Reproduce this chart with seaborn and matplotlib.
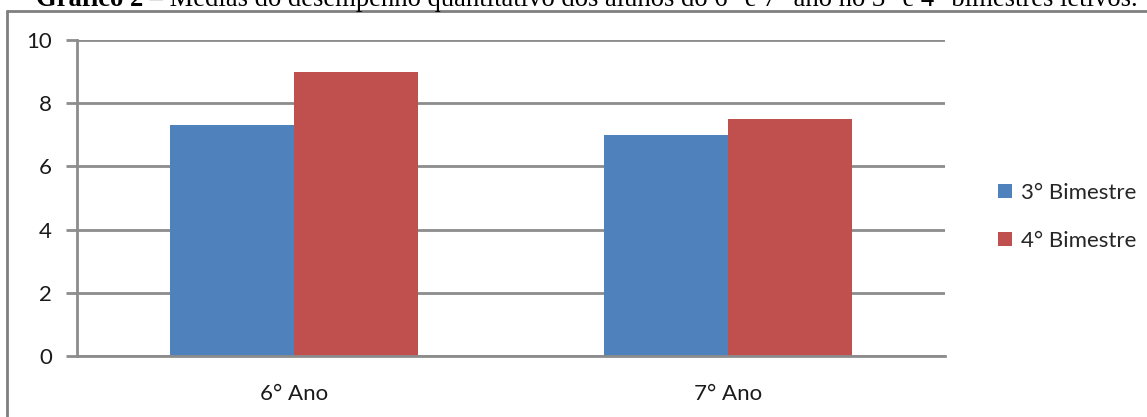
import matplotlib
matplotlib.use("Agg")
import matplotlib.pyplot as plt
from matplotlib.lines import Line2D
from matplotlib.patches import Patch
import seaborn as sns
import pandas as pd

# Data
anos = ["6° Ano", "7° Ano"]
bimestres = ["3° Bimestre", "4° Bimestre"]
bim3 = [7.3, 7.0]
bim4 = [9.0, 7.5]
cores = ["#4F81BD", "#C0504D"]
yticks = [0, 2, 4, 6, 8, 10]
titulo_negrito = "Gráfico 2"
titulo_resto = " – Médias do desempenho quantitativo dos alunos do 6° e 7° ano no 3° e 4° bimestres letivos."

df = pd.DataFrame({
    "Ano": anos * 2,
    "Bimestre": [bimestres[0]] * len(anos) + [bimestres[1]] * len(anos),
    "Media": bim3 + bim4,
})

sns.set_theme(style="white")
plt.rcParams["font.family"] = ["Lato", "DejaVu Sans"]

W, H = 1147, 417
fig = plt.figure(figsize=(W / 100, H / 100), dpi=100)
ax = fig.add_axes([77 / W, 1 - 356 / H, (945 - 77) / W, (356 - 40) / H])

grid_c = "#8C8C8C"
text_c = "#1a1a1a"
ax.set_axisbelow(True)
for v in yticks:
    ax.axhline(v, color=grid_c, lw=2, zorder=0)

sns.barplot(data=df, x="Ano", y="Media", hue="Bimestre", hue_order=bimestres,
            palette=cores, width=0.57, dodge=True, saturation=1, ax=ax,
            legend=False, zorder=2)
for p in ax.patches:
    p.set_edgecolor("none")

ax.set_xlim(-0.5, 1.5)
ax.set_ylim(0, 10)
ax.set_yticks(yticks)
ax.set_yticklabels([str(v) for v in yticks], fontsize=16, color=text_c)
ax.set_xticks([0, 1])
ax.set_xticklabels(anos, fontsize=16, color=text_c)
ax.set_xticks([-0.5, 0.5, 1.5], minor=True)
ax.tick_params(axis="x", which="major", length=0, pad=20)
ax.tick_params(axis="x", which="minor", length=7, width=2, color=grid_c, direction="out")
ax.tick_params(axis="y", which="major", length=8, width=2, color=grid_c, pad=10, left=True)
ax.set_xlabel("")
ax.set_ylabel("")

for s in ["top", "right"]:
    ax.spines[s].set_visible(False)
ax.spines["left"].set_color(grid_c)
ax.spines["left"].set_linewidth(2)
ax.spines["bottom"].set_color(grid_c)
ax.spines["bottom"].set_linewidth(2)

handles = [Patch(facecolor=c, edgecolor="none") for c in cores]
fig.legend(handles, bimestres, loc="center left",
           bbox_to_anchor=(987 / W, 1 - 217 / H), frameon=False,
           fontsize=16, handlelength=0.62, handleheight=0.62,
           handletextpad=0.4, labelspacing=1.25, borderpad=0)

# Outer frame (left and top edges)
frame_c = "#7F7F7F"
fig.add_artist(Line2D([7.5 / W, 7.5 / W], [0, 1 - 11 / H],
                      transform=fig.transFigure, color=frame_c, lw=2))
fig.add_artist(Line2D([7.5 / W, 1], [1 - 11 / H, 1 - 11 / H],
                      transform=fig.transFigure, color=frame_c, lw=2))

# Caption above the frame
fig.canvas.draw()
r = fig.canvas.get_renderer()
t1 = fig.text(36 / W, 1 - 6 / H, titulo_negrito, fontsize=19.2, fontweight="bold",
              family="Liberation Serif", va="baseline", ha="left", color="black")
bb = t1.get_window_extent(renderer=r)
fig.text(bb.x1 / W, 1 - 6 / H, titulo_resto, fontsize=19.2,
         family="Liberation Serif", va="baseline", ha="left", color="black")

fig.savefig("out.png", dpi=100)
